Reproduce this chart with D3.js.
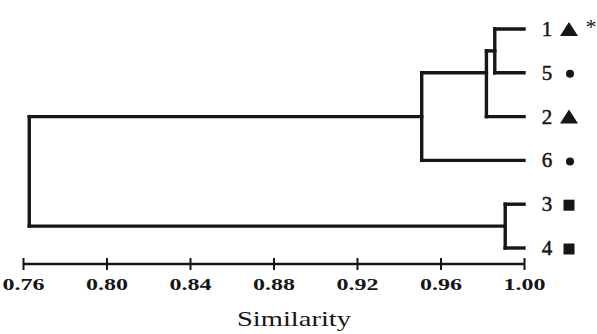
<!DOCTYPE html>
<html>
<head>
<meta charset="utf-8">
<script src="https://cdn.jsdelivr.net/npm/d3@7/dist/d3.min.js"></script>
<style>
  html, body { margin: 0; padding: 0; background: #ffffff; }
  svg { display: block; }
</style>
</head>
<body>
<svg id="chart" width="597" height="334"></svg>
<script>
// ---- data ----
const leafNames   = ["1", "5", "2", "6", "3", "4"];
const leafMarkers = ["triangle", "circle", "triangle", "circle", "square", "square"];
const leafStars   = ["*", "", "", "", "", ""];

const nodeIds        = ["A", "B", "C", "D", "R"];
const nodeChildren   = [["1", "5"], ["A", "2"], ["B", "6"], ["3", "4"], ["C", "D"]];
const nodeSimilarity = [0.986, 0.982, 0.951, 0.991, 0.763];

const tickValues = [0.76, 0.80, 0.84, 0.88, 0.92, 0.96, 1.00];
const tickLabels = ["0.76", "0.80", "0.84", "0.88", "0.92", "0.96", "1.00"];
const axisTitle  = "Similarity";

const FONT = '"Liberation Serif"';

// ---- build hierarchy ----
function build(id) {
  const i = nodeIds.indexOf(id);
  if (i < 0) return { name: id, sim: 1.0 };
  return { name: id, sim: nodeSimilarity[i], children: nodeChildren[i].map(build) };
}
const root = d3.hierarchy(build("R"));

const svg = d3.select("#chart");
const x = d3.scaleLinear().domain([0.76, 1.00]).range([23, 524]);
const y = d3.scalePoint().domain(leafNames).range([29, 248]);

root.eachAfter(n => {
  if (!n.children) n.py = y(n.data.name);
  else if (n.depth >= 2) n.py = d3.mean(n.leaves(), l => y(l.data.name));
  else n.py = (n.children[0].py + n.children[n.children.length - 1].py) / 2;
  n.px = x(n.data.sim);
});

const ink = "#161616";
const g = svg.append("g");

root.descendants().filter(n => n.children).forEach(n => {
  const ys = n.children.map(c => c.py);
  g.append("line")
    .attr("x1", n.px).attr("x2", n.px)
    .attr("y1", d3.min(ys)).attr("y2", d3.max(ys))
    .attr("stroke", ink).attr("stroke-width", 3.4).attr("stroke-linecap", "square");
  n.children.forEach(c => {
    g.append("line")
      .attr("x1", n.px).attr("x2", c.px)
      .attr("y1", c.py).attr("y2", c.py)
      .attr("stroke", ink).attr("stroke-width", 3.4).attr("stroke-linecap", "square");
  });
});

const labelX = 547, markX = 569;
leafNames.forEach((name, i) => {
  const yy = y(name);
  svg.append("text")
    .attr("x", labelX).attr("y", yy + 7)
    .attr("text-anchor", "middle")
    .style("font-family", FONT)
    .style("font-size", "21px")
    .attr("fill", ink)
    .attr("stroke", ink).attr("stroke-width", 0.5)
    .text(name);
  const m = leafMarkers[i];
  if (m === "triangle") {
    svg.append("path")
      .attr("d", `M${markX - 9},${yy + 7} L${markX + 9},${yy + 7} L${markX},${yy - 7} Z`)
      .attr("fill", ink);
  } else if (m === "circle") {
    svg.append("circle").attr("cx", markX + 1).attr("cy", yy + 1).attr("r", 4).attr("fill", ink);
  } else if (m === "square") {
    svg.append("rect").attr("x", markX - 5.5).attr("y", yy - 4.5).attr("width", 11).attr("height", 11).attr("fill", ink);
  }
  if (leafStars[i]) {
    svg.append("text")
      .attr("x", markX + 22).attr("y", yy + 5)
      .attr("text-anchor", "middle")
      .style("font-family", FONT)
      .style("font-size", "22px")
      .attr("fill", ink)
      .text(leafStars[i]);
  }
});

const axisY = 264;
const axis = d3.axisBottom(x)
  .tickValues(tickValues)
  .tickFormat((d, i) => tickLabels[i])
  .tickSize(0)
  .tickPadding(0);
const ag = svg.append("g").attr("transform", `translate(0,${axisY})`).call(axis);
ag.select(".domain").remove();
ag.append("line")
  .attr("x1", x(0.76)).attr("x2", x(1.00))
  .attr("stroke", ink).attr("stroke-width", 2.4);
ag.selectAll(".tick").append("line")
  .attr("y1", -6).attr("y2", 6)
  .attr("stroke", ink).attr("stroke-width", 2);
ag.selectAll(".tick text")
  .attr("y", 26).attr("dy", 0)
  .style("font-family", FONT)
  .style("font-weight", "bold")
  .style("font-size", "16px")
  .attr("fill", ink)
  .attr("textLength", 42)
  .attr("lengthAdjust", "spacingAndGlyphs");

svg.append("text")
  .attr("x", 294).attr("y", 326)
  .attr("text-anchor", "middle")
  .style("font-family", FONT)
  .style("font-size", "21px")
  .attr("fill", ink)
  .attr("textLength", 114)
  .attr("lengthAdjust", "spacingAndGlyphs")
  .text(axisTitle);
</script>
</body>
</html>
